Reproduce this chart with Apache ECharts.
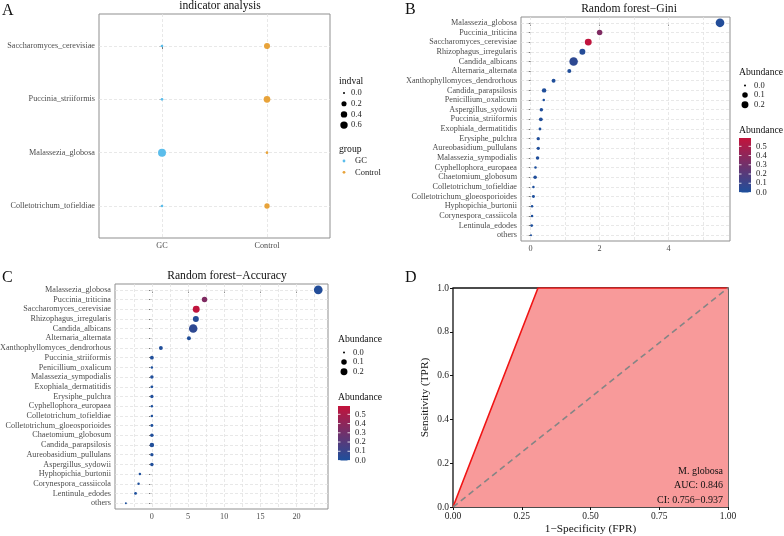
<!DOCTYPE html>
<html><head><meta charset="utf-8">
<script src="https://cdn.jsdelivr.net/npm/echarts@6/dist/echarts.min.js"></script>
<style>html,body{margin:0;padding:0;background:#fff}#c{width:784px;height:536px}</style>
</head><body><div id="c"></div>
<script>
const FONT = 'Liberation Serif';
// ---------- Panel A : indicator analysis ----------
const indCats = ['Saccharomyces_cerevisiae','Puccinia_striiformis','Malassezia_globosa','Colletotrichum_tofieldiae'];
const indGroups = ['GC','Control'];
const indvalGC = [0.01, 0.01, 0.73, 0.01];
const indvalControl = [0.33, 0.45, 0.01, 0.22];
const indvalLegend = [0.0, 0.2, 0.4, 0.6];
// ---------- Panel B : Random forest - Gini ----------
const giniCats = ['Malassezia_globosa','Puccinia_triticina','Saccharomyces_cerevisiae','Rhizophagus_irregularis','Candida_albicans','Alternaria_alternata','Xanthophyllomyces_dendrorhous','Candida_parapsilosis','Penicillium_oxalicum','Aspergillus_sydowii','Puccinia_striiformis','Exophiala_dermatitidis','Erysiphe_pulchra','Aureobasidium_pullulans','Malassezia_sympodialis','Cyphellophora_europaea','Chaetomium_globosum','Colletotrichum_tofieldiae','Colletotrichum_gloeosporioides','Hyphopichia_burtonii','Corynespora_cassiicola','Lentinula_edodes','others'];
const giniValues = [5.49, 2.00, 1.67, 1.50, 1.245, 1.12, 0.665, 0.39, 0.38, 0.31, 0.295, 0.27, 0.22, 0.22, 0.20, 0.14, 0.13, 0.08, 0.08, 0.04, 0.04, 0.03, 0.01];
const abundSize = [0.37, 0.10, 0.20, 0.13, 0.35, 0.033, 0.03, 0.05, 0.002, 0.019, 0.027, 0.005, 0.014, 0.014, 0.019, 0.002, 0.019, 0.002, 0.008, 0.002, 0.002, 0.005, 0.0];
const abundColor = [0.02, 0.35, 0.58, 0.03, 0.06, 0.01, 0.01, 0.01, 0.0, 0.01, 0.01, 0.0, 0.01, 0.01, 0.01, 0.0, 0.01, 0.0, 0.0, 0.0, 0.0, 0.0, 0.0];
const giniTicks = [0, 2, 4];
const giniMinor = [1, 3, 5];
// ---------- Panel C : Random forest - Accuracy ----------
const accCats = ['Malassezia_globosa','Puccinia_triticina','Saccharomyces_cerevisiae','Rhizophagus_irregularis','Candida_albicans','Alternaria_alternata','Xanthophyllomyces_dendrorhous','Puccinia_striiformis','Penicillium_oxalicum','Malassezia_sympodialis','Exophiala_dermatitidis','Erysiphe_pulchra','Cyphellophora_europaea','Colletotrichum_tofieldiae','Colletotrichum_gloeosporioides','Chaetomium_globosum','Candida_parapsilosis','Aureobasidium_pullulans','Aspergillus_sydowii','Hyphopichia_burtonii','Corynespora_cassiicola','Lentinula_edodes','others'];
const accValues = [23.0, 7.28, 6.13, 6.08, 5.71, 5.12, 1.24, 0, 0, 0, 0, 0, 0, 0, 0, 0, 0, 0, 0, -1.66, -1.84, -2.26, -3.6];
const accTicks = [0, 5, 10, 15, 20];
const accMinor = [-2.5, 2.5, 7.5, 12.5, 17.5, 22.5];
const abundSizeLegend = [0.0, 0.1, 0.2];
const abundColorLegend = [0.0, 0.1, 0.2, 0.3, 0.4, 0.5];
// ---------- Panel D : ROC ----------
const rocFPR = [0, 0.309, 1];
const rocTPR = [0, 1, 1];
const diagFPR = [0, 1];
const diagTPR = [0, 1];
const fprTicks = [0, 0.25, 0.5, 0.75, 1];
const tprTicks = [0, 0.2, 0.4, 0.6, 0.8, 1];
const rocText = ['M. globosa', 'AUC: 0.846', 'CI: 0.756\u22120.937'];

// ---------- styles ----------
const COL_GC = '#5BBDEB', COL_CTRL = '#E8A33A';
const BLUE = '#1D4F9C', RED = '#C3133B';
const COLOR_MAX = 0.59;
const sizeA = v => 2 + 7 * Math.sqrt(v);
const sizeB = v => 2 + 11 * Math.sqrt(v);
const gridStyle = {color: '#E2E2E2', type: [3, 2], width: 0.8};
const labTxt = {fontFamily: FONT, fontSize: 8.2, color: '#4D4D4D'};

function gridLinesSeries(xi, yi, xs, ys) {
  const data = xs.map(v => ({xAxis: v})).concat(ys.map(v => ({yAxis: v})));
  return {type: 'scatter', xAxisIndex: xi, yAxisIndex: yi, data: [], z: 1, silent: true,
    markLine: {silent: true, z: 1, symbol: ['none', 'none'], label: {show: false}, lineStyle: gridStyle, animation: false, data: data}};
}
function valAxis(gi, min, max, ticks, fmt, extra) {
  return Object.assign({type: 'value', gridIndex: gi, min: min, max: max,
    splitLine: {show: false}, axisLine: {show: false},
    axisTick: {show: true, customValues: ticks, length: 3, lineStyle: {color: '#555', width: 0.8}},
    axisLabel: Object.assign({customValues: ticks, formatter: fmt, margin: 4}, labTxt)}, extra || {});
}
const idx = n => Array.from({length: n}, (_, i) => i);
const titleStyle = {fontFamily: FONT, fontSize: 11.6, fontWeight: 'normal', color: '#111'};

const option = {
  animation: false,
  backgroundColor: '#fff',
  title: [
    {text: 'indicator analysis', left: 215, top: -5, textAlign: 'center', textStyle: titleStyle},
    {text: 'Random forest\u2212Gini', left: 624, top: -2, textAlign: 'center', textStyle: titleStyle},
    {text: 'Random forest\u2212Accuracy', left: 222, top: 265, textAlign: 'center', textStyle: titleStyle}
  ],
  grid: [
    {left: 99, top: 14, width: 231, height: 224, outerBoundsMode: 'none', containLabel: false, show: true, borderColor: '#8F8F8F', borderWidth: 1, backgroundColor: 'transparent'},
    {left: 521, top: 17, width: 209, height: 224, outerBoundsMode: 'none', containLabel: false, show: true, borderColor: '#8F8F8F', borderWidth: 1, backgroundColor: 'transparent'},
    {left: 115, top: 284, width: 213, height: 225, outerBoundsMode: 'none', containLabel: false, show: true, borderColor: '#8F8F8F', borderWidth: 1, backgroundColor: 'transparent'},
    {left: 453, top: 288, width: 275, height: 219, outerBoundsMode: 'none', containLabel: false, show: true, borderColor: '#111', borderWidth: 1.3, backgroundColor: 'transparent'}
  ],
  xAxis: [
    valAxis(0, -0.6, 1.6, [0, 1], v => indGroups[Math.round(v)]),
    valAxis(1, -0.28, 5.78, giniTicks, v => String(v)),
    valAxis(2, -5.1, 24.35, accTicks, v => String(v)),
    Object.assign(valAxis(3, 0, 1, fprTicks, v => v.toFixed(2)), {
      axisTick: {show: true, customValues: fprTicks, length: 3, lineStyle: {color: '#111', width: 1}},
      axisLabel: {customValues: fprTicks, formatter: v => v.toFixed(2), margin: 4, fontFamily: FONT, fontSize: 9.5, color: '#222'},
      name: '1\u2212Specificity (FPR)', nameLocation: 'middle', nameGap: 17,
      nameTextStyle: {fontFamily: FONT, fontSize: 11.3, color: '#111'}})
  ],
  yAxis: [
    valAxis(0, -0.6, 3.6, [0, 1, 2, 3], v => indCats[Math.round(v)], {inverse: true}),
    valAxis(1, -0.6, 22.6, idx(23), v => giniCats[Math.round(v)], {inverse: true}),
    valAxis(2, -0.6, 22.6, idx(23), v => accCats[Math.round(v)], {inverse: true}),
    Object.assign(valAxis(3, 0, 1, tprTicks, v => v.toFixed(1)), {
      axisTick: {show: true, customValues: tprTicks, length: 3, lineStyle: {color: '#111', width: 1}},
      axisLabel: {customValues: tprTicks, formatter: v => v.toFixed(1), margin: 4, fontFamily: FONT, fontSize: 9.5, color: '#222'},
      name: 'Sensitivity (TPR)', nameLocation: 'middle', nameGap: 22, nameRotate: 90,
      nameTextStyle: {fontFamily: FONT, fontSize: 11.3, color: '#111'}})
  ],
  visualMap: [{type: 'continuous', show: false, seriesIndex: [4, 6], dimension: 3, min: 0, max: COLOR_MAX,
    inRange: {color: [BLUE, RED]}}],
  series: [
    gridLinesSeries(0, 0, [0, 1], [0, 1, 2, 3]),
    {type: 'scatter', xAxisIndex: 0, yAxisIndex: 0, z: 3, name: 'GC',
      data: indCats.map((c, i) => [0, i, indvalGC[i]]), symbolSize: d => sizeA(d[2]),
      itemStyle: {color: COL_GC, opacity: 1}},
    {type: 'scatter', xAxisIndex: 0, yAxisIndex: 0, z: 3, name: 'Control',
      data: indCats.map((c, i) => [1, i, indvalControl[i]]), symbolSize: d => sizeA(d[2]),
      itemStyle: {color: COL_CTRL, opacity: 1}},
    gridLinesSeries(1, 1, giniTicks.concat(giniMinor), idx(23)),
    {type: 'scatter', xAxisIndex: 1, yAxisIndex: 1, z: 3,
      data: giniCats.map((c, i) => [giniValues[i], i, abundSize[i], abundColor[i]]),
      symbolSize: d => sizeB(d[2]), itemStyle: {opacity: 1}},
    gridLinesSeries(2, 2, accTicks.concat(accMinor), idx(23)),
    {type: 'scatter', xAxisIndex: 2, yAxisIndex: 2, z: 3,
      data: accCats.map((c, i) => { const k = giniCats.indexOf(c); return [accValues[i], i, abundSize[k], abundColor[k]]; }),
      symbolSize: d => sizeB(d[2]), itemStyle: {opacity: 1}},
    {type: 'line', xAxisIndex: 3, yAxisIndex: 3, z: 2, symbol: 'none',
      data: rocFPR.map((x, i) => [x, rocTPR[i]]),
      lineStyle: {color: '#F01414', width: 1.6}, areaStyle: {color: '#F89A9A', opacity: 1, origin: 'start'}},
    {type: 'line', xAxisIndex: 3, yAxisIndex: 3, z: 3, symbol: 'none',
      data: diagFPR.map((x, i) => [x, diagTPR[i]]),
      lineStyle: {color: '#858585', width: 1.6, type: [6, 4]}}
  ],
  graphic: []
};

// ---------- annotations / legends (graphic) ----------
const G = option.graphic;
const txt = (x, y, t, size, extra) => G.push({type: 'text', x: x, y: y, z: 100, silent: true,
  style: Object.assign({text: t, fontFamily: FONT, fontSize: size, fill: '#111', textVerticalAlign: 'middle'}, extra || {})});
const dot = (x, y, d, c) => G.push({type: 'circle', x: x, y: y, z: 100, silent: true, shape: {r: d / 2}, style: {fill: c}});
// panel letters
txt(2, 11, 'A', 16); txt(405, 10, 'B', 16); txt(2, 278, 'C', 16); txt(405, 278, 'D', 16);
// Panel A legend
txt(339, 81, 'indval', 9.7);
indvalLegend.forEach((v, i) => { const y = 93 + i * 10.7; dot(344, y, sizeA(v), '#000'); txt(351, y, v.toFixed(1), 8.5, {fill: '#222'}); });
txt(339, 149, 'group', 9.7);
[[COL_GC, 'GC'], [COL_CTRL, 'Control']].forEach((g, i) => { const y = 161 + i * 11.3; dot(344, y, 2.8, g[0]); txt(355, y, g[1], 8.5, {fill: '#222'}); });
// size + colorbar legends for B and C
function abundLegend(x0, ySize, yColTitle, barTop, barH) {
  txt(x0, ySize, 'Abundance', 9.7);
  abundSizeLegend.forEach((v, i) => { const y = ySize + 13.5 + i * 9.6; dot(x0 + 6, y, sizeB(v), '#000'); txt(x0 + 15, y, v.toFixed(1), 8.5, {fill: '#222'}); });
  txt(x0, yColTitle, 'Abundance', 9.7);
  G.push({type: 'rect', x: x0, y: barTop, z: 100, silent: true, shape: {width: 12, height: barH},
    style: {fill: {type: 'linear', x: 0, y: 0, x2: 0, y2: 1, colorStops: [{offset: 0, color: RED}, {offset: 1, color: BLUE}]}}});
  abundColorLegend.forEach(v => {
    const y = barTop + barH * (1 - v / COLOR_MAX);
    txt(x0 + 17, y, v.toFixed(1), 8.5, {fill: '#222'});
    G.push({type: 'line', z: 101, silent: true, shape: {x1: x0, y1: y, x2: x0 + 2.5, y2: y}, style: {stroke: '#fff', lineWidth: 0.8}});
    G.push({type: 'line', z: 101, silent: true, shape: {x1: x0 + 9.5, y1: y, x2: x0 + 12, y2: y}, style: {stroke: '#fff', lineWidth: 0.8}});
  });
}
abundLegend(739, 72, 130, 138, 54.5);
abundLegend(338, 339, 397, 406, 54.5);
// ROC annotation
rocText.forEach((t, i) => txt(723, 471.5 + i * 14.3, t, 10, {textAlign: 'right'}));

const chart = echarts.init(document.getElementById('c'), null, {renderer: 'canvas'});
chart.setOption(option);
</script></body></html>
